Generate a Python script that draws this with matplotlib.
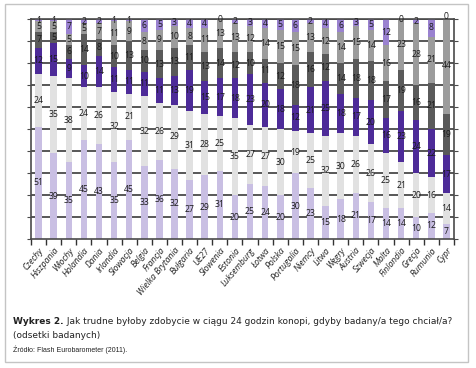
import numpy as np
import matplotlib
matplotlib.use("Agg")
import matplotlib.pyplot as plt
from matplotlib.patches import Rectangle

# kraje (kolejnosc jak na wykresie)
kraje = ["Czechy", "Hiszpania", "Włochy", "Holandia", "Dania", "Irlandia", "Słowacja",
         "Belgia", "Francja", "Wielka Brytania", "Bułgaria", "UE27", "Słowenia", "Estonia",
         "Luksemburg", "Łotwa", "Polska", "Portugalia", "Niemcy", "Litwa", "Węgry",
         "Austria", "Szwecja", "Malta", "Finlandia", "Grecja", "Rumunia", "Cypr"]

# segmenty od dolu do gory
seg1 = [51, 39, 35, 45, 43, 35, 45, 33, 36, 32, 27, 29, 31, 20, 25, 24, 20, 30, 23, 15, 18, 21, 17, 14, 14, 10, 12, 7]
seg2 = [24, 35, 38, 24, 26, 32, 21, 32, 26, 29, 31, 28, 25, 35, 27, 27, 30, 19, 25, 32, 30, 26, 26, 25, 21, 20, 16, 14]
seg3 = [12, 15, 9, 10, 14, 11, 11, 11, 11, 13, 19, 15, 17, 18, 23, 20, 18, 12, 21, 25, 18, 17, 20, 16, 23, 24, 22, 17]
seg4 = [7, 5, 6, 14, 8, 10, 13, 10, 13, 13, 11, 13, 14, 12, 10, 11, 12, 18, 16, 12, 14, 18, 18, 17, 19, 16, 21, 19]
seg5 = [5, 5, 5, 5, 7, 11, 9, 8, 9, 10, 8, 11, 13, 13, 12, 14, 15, 15, 13, 12, 14, 15, 14, 16, 23, 28, 21, 44]
seg6 = [1, 1, 7, 2, 2, 1, 1, 6, 5, 3, 4, 4, 0, 2, 3, 4, 5, 6, 2, 4, 6, 3, 5, 12, 0, 2, 8, 0]

serie = [seg1, seg2, seg3, seg4, seg5, seg6]
kolory = ["#c9bfe3", "#e1e1e1", "#4d2b98", "#5a5a5a", "#9c9c9c", "#9a82d0"]

fig = plt.figure(figsize=(4.77, 3.68), dpi=100)
fig.patches.append(Rectangle((5 / 477, 1 - 362 / 368), 463 / 477, 358 / 368,
                             transform=fig.transFigure, fill=False,
                             edgecolor="#c4c4c4", linewidth=1.0))

ax = fig.add_axes([31 / 477, 1 - 239 / 368, 423 / 477, 220 / 368])
x = np.arange(len(kraje))

# linie siatki pod slupkami
for yy in range(10, 101, 10):
    ax.axhline(yy, color="#4a4a4a", linewidth=1.3, zorder=0)

bottom = np.zeros(len(kraje))
for vals, col in zip(serie, kolory):
    vals = np.array(vals, dtype=float)
    ax.bar(x, vals, width=0.43, bottom=bottom, color=col, zorder=2)
    for xi, b, v in zip(x, bottom, vals):
        ax.text(xi, b + v / 2, "%d" % v, ha="center", va="center",
                fontsize=6.2, family="Open Sans", color="#1a1a1a", zorder=3)
    bottom += vals

ax.set_xlim(-0.5, len(kraje) - 0.5)
ax.set_ylim(0, 100)
ax.set_yticks(np.arange(0, 101, 10))
ax.set_yticklabels([])
ax.tick_params(axis="y", length=3, color="#4a4a4a", left=True, right=True)

ax.set_xticks(x)
ax.set_xticklabels(kraje, rotation=50, ha="right", va="top", rotation_mode="anchor",
                   fontsize=6.2, family="Open Sans", style="italic", color="#222222")
ax.tick_params(axis="x", which="major", length=0, pad=5)
ax.set_xticks(np.arange(-0.5, len(kraje)), minor=True)
ax.tick_params(axis="x", which="minor", length=4, color="#333333", width=1)

for s in ["left", "right", "top", "bottom"]:
    ax.spines[s].set_color("#4a4a4a")
    ax.spines[s].set_linewidth(1.2)

# podpis
t1 = fig.text(13 / 477, 1 - 322 / 368, "Wykres 2.", fontsize=6.5, fontweight="bold",
              family="DejaVu Sans", va="center", color="#222222")
fig.text(0, 0, "", fontsize=1)
ax.annotate(" Jak trudne byłoby zdobycie w ciągu 24 godzin konopi, gdyby badany/a tego chciał/a?",
            xy=(1, 0.5), xycoords=t1, va="center", ha="left", fontsize=6.5,
            family="DejaVu Sans", color="#222222", annotation_clip=False)
fig.text(13 / 477, 1 - 336 / 368, "(odsetki badanych)", fontsize=6.5, family="DejaVu Sans",
         va="center", color="#222222")
fig.text(13 / 477, 1 - 350 / 368, "Źródło: Flash Eurobarometer (2011).", fontsize=5,
         family="Liberation Sans", va="center", color="#222222")

fig.savefig("out.png", dpi=100)
